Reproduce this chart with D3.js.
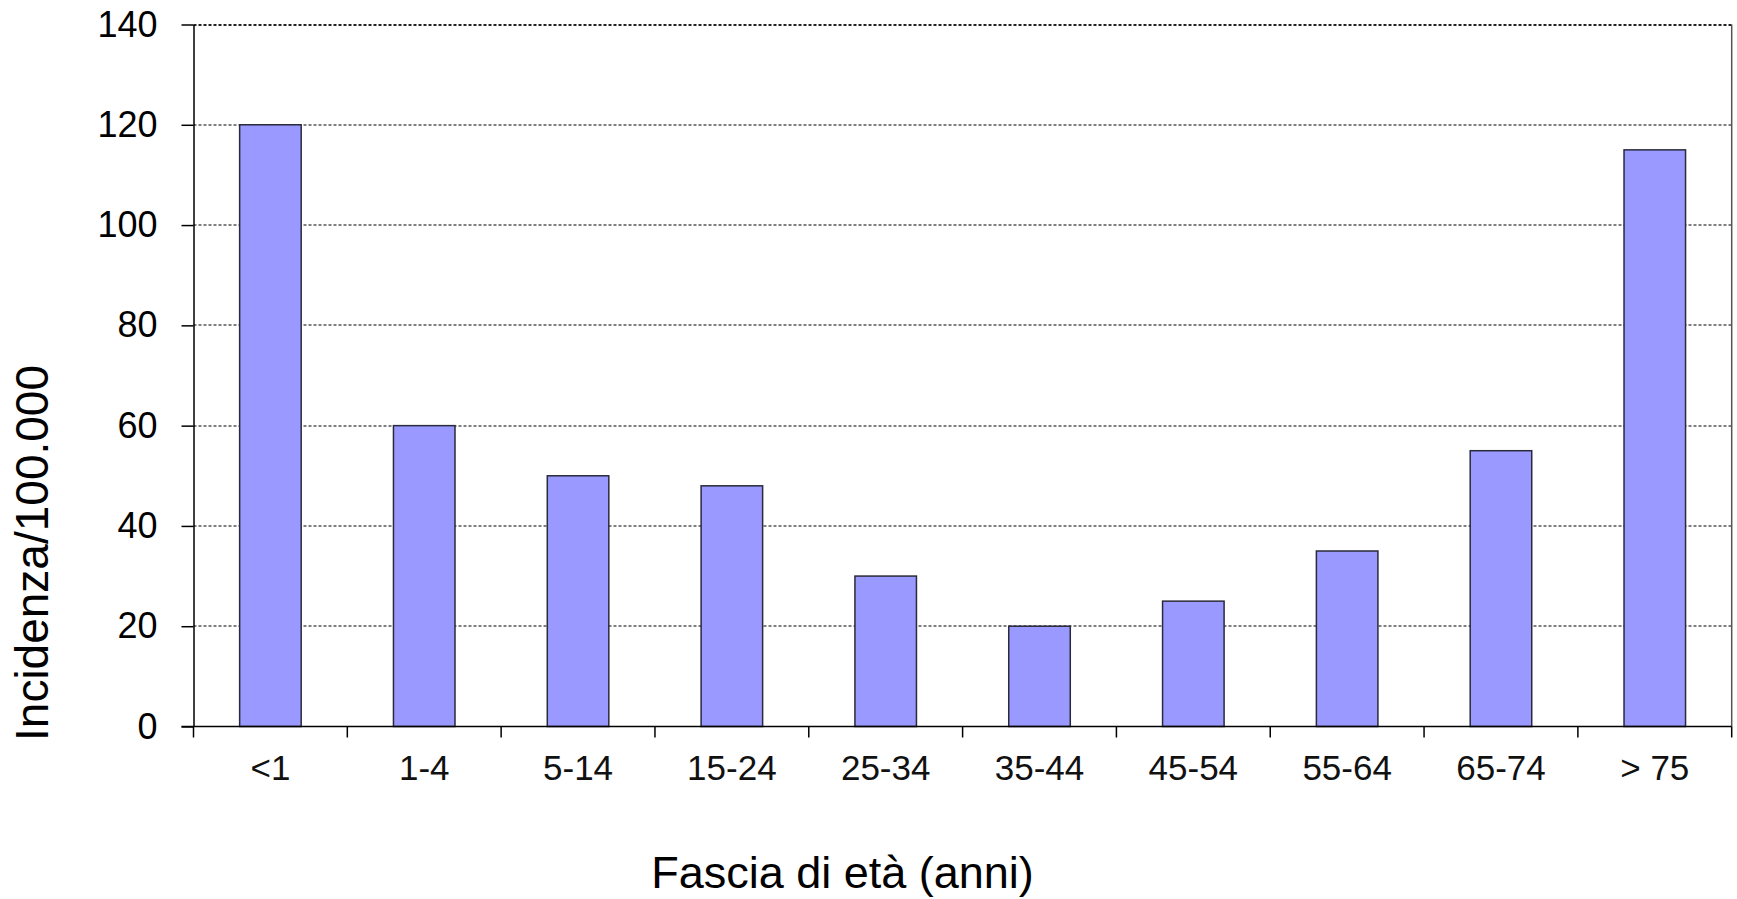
<!DOCTYPE html>
<html><head><meta charset="utf-8">
<script src="https://cdn.jsdelivr.net/npm/d3@7"></script>
<style>
html,body{margin:0;padding:0;background:#fff;}
svg{display:block;font-family:"Liberation Sans",Arial,sans-serif;}
</style></head>
<body>
<svg id="chart" width="1737" height="899"></svg>
<script>
const categories = ["<1","1-4","5-14","15-24","25-34","35-44","45-54","55-64","65-74","> 75"];
const values = [120, 60, 50, 48, 30, 20, 25, 35, 55, 115];
const yTicks = [0, 20, 40, 60, 80, 100, 120, 140];
const xTitle = "Fascia di età (anni)";
const yTitle = "Incidenza/100.000";

const svg = d3.select("#chart");
const L = 193.5, R = 1731.7, T = 24.5, B = 726.5;

const x = d3.scaleBand().domain(categories).range([L, R]).padding(0);
const y = d3.scaleLinear().domain([0, 140]).range([B, T]);
const bw = x.bandwidth();

// gridlines
svg.append("g").selectAll("line").data(yTicks.filter(d => d > 0)).join("line")
  .attr("x1", L).attr("x2", R)
  .attr("y1", d => Math.round(y(d))).attr("y2", d => Math.round(y(d)))
  .attr("stroke", d => d === 140 ? "#222" : "#555").attr("stroke-width", d => d === 140 ? 2 : 1.5)
  .attr("stroke-dasharray", "3,2");

// right border
svg.append("line").attr("x1", R).attr("x2", R).attr("y1", T).attr("y2", B)
  .attr("stroke", "#555").attr("stroke-width", 1.5);

// bars
svg.append("g").selectAll("rect").data(categories).join("rect")
  .attr("x", d => x(d) + bw * 0.3)
  .attr("width", bw * 0.4)
  .attr("y", (d, i) => y(values[i]))
  .attr("height", (d, i) => B - y(values[i]))
  .attr("fill", "#9999FF")
  .attr("stroke", "#2a2a3a").attr("stroke-width", 1.5);

// y axis
const yAxis = svg.append("g").attr("transform", `translate(${L},0)`)
  .call(d3.axisLeft(y).tickValues(yTicks).tickSize(12).tickPadding(24).tickSizeOuter(0));
yAxis.select(".domain").attr("stroke", "#000").attr("stroke-width", 1.5);
yAxis.selectAll(".tick line").attr("stroke", "#000").attr("stroke-width", 1.5);
yAxis.selectAll("text").attr("font-size", 36).attr("fill", "#000")
  .attr("font-family", "Liberation Sans, Arial, sans-serif");

// x axis
const xAxis = svg.append("g").attr("transform", `translate(0,${B})`)
  .call(d3.axisBottom(x).tickSize(0).tickPadding(28.5).tickSizeOuter(0));
xAxis.select(".domain").remove();
xAxis.selectAll("text").attr("font-size", 35).attr("fill", "#111")
  .attr("font-family", "Liberation Sans, Arial, sans-serif");
svg.append("line").attr("x1", L - 12).attr("x2", R).attr("y1", B).attr("y2", B)
  .attr("stroke", "#000").attr("stroke-width", 1.5);
// boundary ticks
const bounds = categories.map(c => x(c)).concat([R]);
svg.append("g").selectAll("line").data(bounds).join("line")
  .attr("x1", d => d).attr("x2", d => d).attr("y1", B).attr("y2", B + 11)
  .attr("stroke", "#000").attr("stroke-width", 1.5);

// titles
svg.append("text").attr("x", 842.5).attr("y", 888).attr("text-anchor", "middle")
  .attr("font-size", 45).attr("fill", "#000").text(xTitle);
svg.append("text").attr("transform", "translate(48,553) rotate(-90)")
  .attr("text-anchor", "middle").attr("font-size", 46).attr("fill", "#000").text(yTitle);
</script>
</body></html>
